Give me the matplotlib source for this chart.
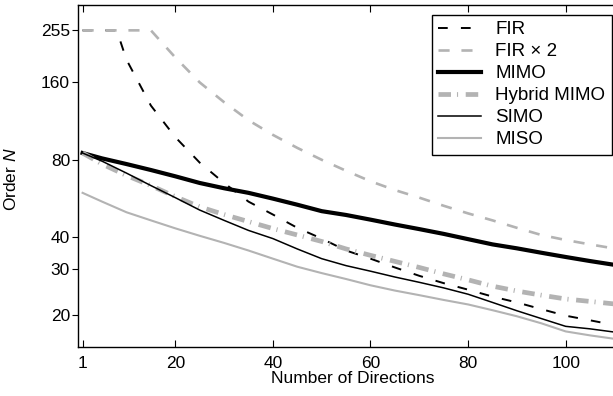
import matplotlib
matplotlib.use("Agg")
import matplotlib.pyplot as plt
from matplotlib.ticker import NullLocator

plt.rcParams['font.family'] = 'Liberation Sans'
plt.rcParams['mathtext.fontset'] = 'custom'
plt.rcParams['mathtext.rm'] = 'Liberation Sans'
plt.rcParams['mathtext.it'] = 'Liberation Sans:italic'
plt.rcParams['lines.scale_dashes'] = False

GRAY = '#b3b3b3'

# filter order vs number of directions
x_fir = [1, 8, 10, 15, 20, 25, 30, 35, 40, 45, 50, 55, 60, 65, 70, 75, 80, 85, 90, 95, 100, 105, 112]
fir = [255, 255, 196, 130, 98, 78, 65, 55, 49, 43.5, 39.5, 35.5, 33, 30.5, 28.3, 26.5, 25, 23.5, 22.3, 21, 19.8, 19, 17.9]

x_fir2 = [1, 15, 20, 25, 30, 35, 40, 45, 50, 55, 60, 65, 70, 75, 80, 85, 90, 95, 100, 105, 112]
fir2 = [255, 255, 200, 160, 134, 114, 100, 89, 80, 72.5, 66, 61, 57, 53, 49.5, 46.5, 43.5, 40.8, 39, 37.5, 35.6]

x = [1, 5, 10, 15, 20, 25, 30, 35, 40, 45, 50, 55, 60, 65, 70, 75, 80, 85, 90, 95, 100, 105, 112]
mimo = [85, 81, 77, 73, 69, 65, 62, 59.5, 56.5, 53.5, 50.5, 48.8, 46.8, 44.8, 43, 41.2, 39.3, 37.5, 36.2, 34.8, 33.5, 32.3, 30.8]
hybrid = [85, 77, 69.5, 63.5, 57.5, 52.5, 49, 46, 43.2, 40.8, 38.5, 36, 34, 32.2, 30.5, 28.8, 27.3, 25.8, 24.7, 23.8, 23, 22.5, 21.8]
simo = [85, 79, 71, 63.5, 57, 51, 46.5, 42.5, 39.5, 36, 33, 31, 29.5, 28, 26.7, 25.4, 24, 22.3, 20.7, 19.3, 18, 17.6, 16.9]
miso = [59.5, 55, 50, 46.5, 43.3, 40.5, 38, 35.5, 33, 30.7, 29, 27.5, 26, 24.8, 23.8, 22.8, 21.9, 20.8, 19.7, 18.5, 17.2, 16.6, 15.9]

yticks = [20, 30, 40, 80, 160, 255]
xticks = [1, 20, 40, 60, 80, 100]

fig = plt.figure(figsize=(6.13, 3.96), dpi=100)
ax = fig.add_axes([77.7 / 613, 49.3 / 396, 1 - 77.7 / 613, 341.7 / 396])

ax.plot(x_fir, fir, color='black', lw=1.4, dashes=(7, 9.5), label='FIR')
ax.plot(x_fir2, fir2, color=GRAY, lw=1.9, dashes=(8, 8.5), label='FIR × 2')
ax.plot(x, mimo, color='black', lw=3.0, label='MIMO')
ax.plot(x, hybrid, color=GRAY, lw=3.4, dashes=(9, 4.3, 0.8, 5.5), label='Hybrid MIMO')
ax.plot(x, simo, color='black', lw=1.1, label='SIMO')
ax.plot(x, miso, color=GRAY, lw=1.5, label='MISO')

ax.set_yscale('log')
ax.set_xlim(0, 109.7)
ax.set_ylim(15, 320)
ax.set_yticks(yticks)
ax.set_yticklabels([str(v) for v in yticks])
ax.yaxis.set_minor_locator(NullLocator())
ax.set_xticks(xticks)

ax.spines['right'].set_visible(False)
for s in ['left', 'bottom', 'top']:
    ax.spines[s].set_linewidth(1.0)

ax.tick_params(axis='x', direction='in', top=True, length=5, width=0.8,
               labelsize=12.5, pad=6.5)
ax.tick_params(axis='y', direction='out', length=4, width=0.8,
               labelsize=12.5, pad=1.5)

ax.set_xlabel('Number of Directions', fontsize=12.5)
ax.xaxis.set_label_coords(0.514, -0.071)
ax.set_ylabel('Order $N$', fontsize=12.5)
ax.yaxis.set_label_coords(-0.11, 0.49)

leg = ax.legend(loc='upper right', bbox_to_anchor=(612 / 613, (396 - 14.7) / 396),
                bbox_transform=fig.transFigure, borderaxespad=0, fontsize=13.5,
                fancybox=False, framealpha=1, edgecolor='black',
                handlelength=2.3, handletextpad=0.75, labelspacing=0.26,
                borderpad=0.35)
leg.get_frame().set_linewidth(1.0)

fig.savefig('out.png', dpi=100)
